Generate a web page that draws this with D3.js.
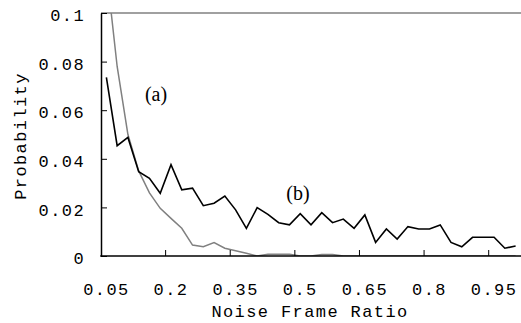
<!DOCTYPE html>
<html>
<head>
  <meta charset="utf-8">
  <script src="https://cdn.jsdelivr.net/npm/d3@7"></script>
  <style>
  body { margin: 0; background: #fff; }
  .mono { font-family: "Liberation Mono", monospace; font-size: 17px; letter-spacing: 1.4px; fill: #000; }
  .tag { font-family: "Liberation Serif", serif; font-size: 20px; fill: #000; }
  </style>
</head>
<body>
<script>
// noise frame ratio categories (step 0.025)
var categories = ["0.05","0.075","0.1","0.125","0.15","0.175","0.2","0.225","0.25","0.275",
  "0.3","0.325","0.35","0.375","0.4","0.425","0.45","0.475","0.5","0.525",
  "0.55","0.575","0.6","0.625","0.65","0.675","0.7","0.725","0.75","0.775",
  "0.8","0.825","0.85","0.875","0.9","0.925","0.95","0.975","1"];

// (b) black series
var seriesB = [0.0735,0.0454,0.0488,0.0347,0.032,0.0258,0.0376,0.0272,0.0279,0.0207,
  0.0217,0.0247,0.019,0.0114,0.0199,0.0171,0.0137,0.0128,0.0174,0.0128,
  0.0178,0.0137,0.0152,0.0114,0.0169,0.0056,0.0111,0.007,0.0121,0.0111,
  0.0111,0.0128,0.0056,0.0038,0.0077,0.0077,0.0077,0.0032,0.0041];

// (a) gray series
var seriesA = [0.118,0.078,0.050,0.035,0.026,0.0196,0.0155,0.0114,0.0045,0.0038,
  0.0055,0.0032,0.0022,0.0011,0,0.0007,0.0007,0.0007,0,0,
  0.0006,0.0006,0,0,0,0,0,0,0,0,
  0,0,0,0,0,0,0,0,0];

var tickLabels = ["0.05","0.2","0.35","0.5","0.65","0.8","0.95"];
var yTicks = [0, 0.02, 0.04, 0.06, 0.08, 0.1];

var width = 521, height = 323;
var margin = {top: 13, right: 0, bottom: 67, left: 101};

var svg = d3.select("body").append("svg")
    .attr("width", width)
    .attr("height", height);

var x = d3.scaleBand()
    .domain(categories)
    .range([margin.left, width - margin.right]);

var y = d3.scaleLinear()
    .domain([0, 0.1])
    .range([height - margin.bottom, margin.top]);

svg.append("clipPath").attr("id", "plot")
  .append("rect")
    .attr("x", margin.left).attr("y", margin.top)
    .attr("width", width - margin.left - margin.right)
    .attr("height", height - margin.top - margin.bottom);

// gray line at top of plot
svg.append("line")
    .attr("x1", margin.left).attr("x2", width - margin.right)
    .attr("y1", y(0.1)).attr("y2", y(0.1))
    .attr("stroke", "#808080").attr("stroke-width", 1.5);

var line = function(vals) {
  return d3.line()
    .x(function(d, i) { return x(categories[i]) + x.bandwidth() / 2; })
    .y(function(d) { return y(d); })(vals);
};

svg.append("path")
    .attr("d", line(seriesA))
    .attr("clip-path", "url(#plot)")
    .attr("fill", "none").attr("stroke", "#808080").attr("stroke-width", 1.5);

svg.append("path")
    .attr("d", line(seriesB))
    .attr("clip-path", "url(#plot)")
    .attr("fill", "none").attr("stroke", "#000").attr("stroke-width", 1.6);

// y axis
var yAxis = svg.append("g")
    .attr("transform", "translate(" + margin.left + ",0)")
    .call(d3.axisLeft(y).tickValues(yTicks).tickSize(-6).tickSizeOuter(0).tickPadding(16)
      .tickFormat(function(d) { return String(+d.toFixed(2)); }));
yAxis.select(".domain").attr("stroke-width", 1.5);
yAxis.selectAll(".tick line").attr("stroke-width", 1);
yAxis.selectAll("text").attr("class", "mono").attr("font-family", null).attr("font-size", null)
    .attr("dy", "0.45em");

// x axis
var bottom = height - margin.bottom;
svg.append("line")
    .attr("x1", margin.left - 0.75).attr("x2", width - margin.right)
    .attr("y1", bottom).attr("y2", bottom)
    .attr("stroke", "#000").attr("stroke-width", 1.5);

var labelled = categories.filter(function(c) { return tickLabels.indexOf(c) >= 0; });
svg.selectAll(".xtick")
    .data(labelled.slice(1))
  .enter().append("line")
    .attr("x1", function(d) { return x(d); }).attr("x2", function(d) { return x(d); })
    .attr("y1", bottom).attr("y2", bottom - 6)
    .attr("stroke", "#000").attr("stroke-width", 1);

svg.selectAll(".xlabel")
    .data(labelled)
  .enter().append("text")
    .attr("class", "mono")
    .attr("x", function(d) { return x(d) + x.bandwidth() / 2; })
    .attr("y", 295)
    .attr("text-anchor", "middle")
    .text(function(d) { return tickLabels[labelled.indexOf(d)]; });

// axis titles
svg.append("text").attr("class", "mono")
    .attr("x", 310).attr("y", 317)
    .attr("text-anchor", "middle")
    .text("Noise Frame Ratio");

svg.append("text").attr("class", "mono")
    .attr("transform", "translate(26,136) rotate(-90)")
    .attr("text-anchor", "middle")
    .text("Probability");

// series tags
svg.append("text").attr("class", "tag").attr("x", 156).attr("y", 101)
    .attr("text-anchor", "middle").text("(a)");
svg.append("text").attr("class", "tag").attr("x", 298).attr("y", 200)
    .attr("text-anchor", "middle").text("(b)");
</script>
</body>
</html>
